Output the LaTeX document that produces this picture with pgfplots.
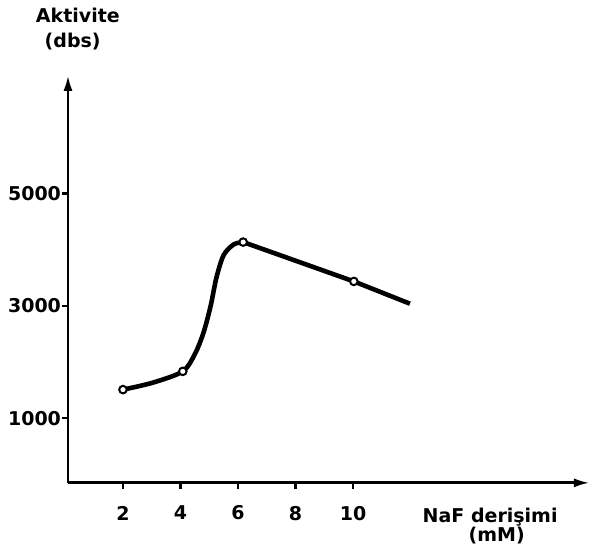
\documentclass[border=0pt]{standalone}
\usepackage{fontspec}
\setmainfont{DejaVu Sans}
\usepackage{pgfplots}
\pgfplotsset{compat=1.18}
\usetikzlibrary{arrows.meta}
\begin{document}
\begin{tikzpicture}
\begin{axis}[
  scale only axis, width=261pt, height=204pt,
  xmin=0.087, xmax=18.24, ymin=-152, ymax=7107,
  axis lines=left,
  axis line style={line width=1.4pt, -{Latex[length=8pt,width=4.5pt]}},
  xtick={2,4,6,8,10}, ytick={1000,3000,5000},
  scaled y ticks=false,
  /pgf/number format/assume math mode=true,
  yticklabel style={/pgf/number format/set thousands separator={}, xshift=3pt},
  xticklabel style={yshift=-5pt},
  tick label style={font=\fontsize{9.5}{10}\selectfont\bfseries},
  tick align=outside, major tick length=3pt,
  tick style={line width=1.2pt, black},
  clip=false,
]
\coordinate (BL) at (axis cs:-2.278,-1462);
\coordinate (TR) at (axis cs:18.73,8440);
\addplot[black, line width=2.3pt, smooth] coordinates {
  (2,1507) (3.04,1631) (4.08,1832) (4.5,2140) (4.8,2520) (5.05,3000)
  (5.25,3500) (5.5,3900) (5.85,4090) (6.18,4132)
};
\addplot[black, line width=2.3pt] coordinates {
  (6.18,4132) (10.03,3432) (11.98,3036)
};
\addplot[only marks, mark=*, mark size=1.9pt, mark options={fill=white, draw=black, line width=1pt}] coordinates {
  (2,1507) (4.08,1832) (6.18,4132) (10.03,3432)
};
\node[font=\fontsize{9.5}{10}\selectfont\bfseries] at (axis cs:0.43,8173) {Aktivite};
\node[font=\fontsize{9.5}{10}\selectfont\bfseries] at (axis cs:0.25,7693) {(dbs)};
\node[font=\fontsize{9.5}{10}\selectfont\bfseries] at (axis cs:14.77,-769) {NaF derişimi};
\node[font=\fontsize{9.5}{10}\selectfont\bfseries] at (axis cs:15.0,-1089) {(mM)};
\end{axis}
\pgfresetboundingbox
\path[use as bounding box] (BL) rectangle (TR);
\end{tikzpicture}
\end{document}
